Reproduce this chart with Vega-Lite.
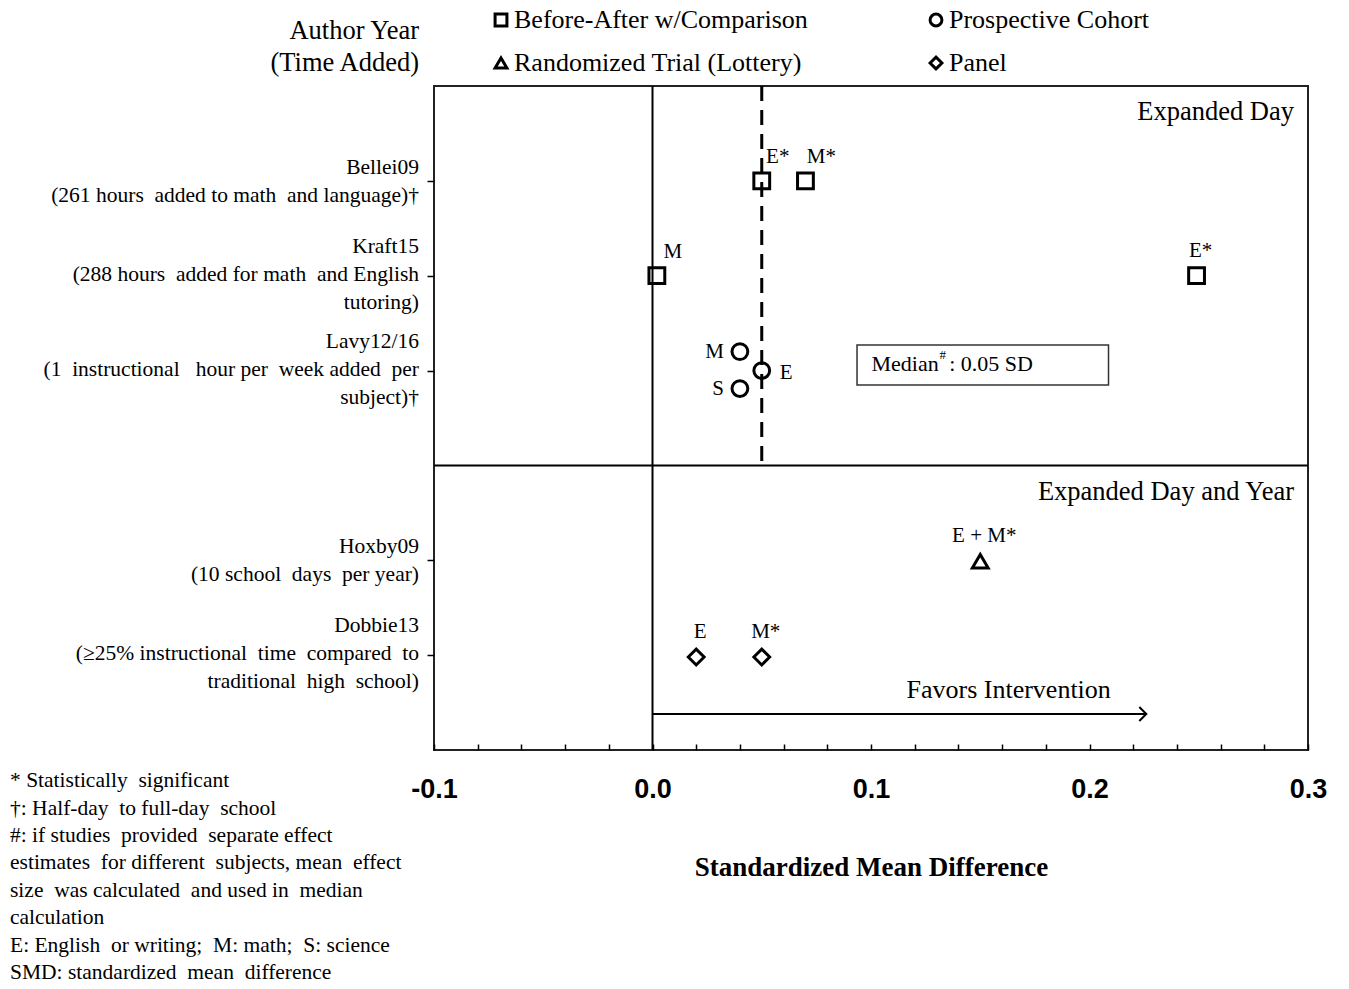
{
  "$schema": "https://vega.github.io/schema/vega-lite/v6.json",
  "width": 874,
  "height": 664,
  "autosize": "none",
  "padding": {"left": 434, "top": 86, "right": 41, "bottom": 239},
  "background": "white",
  "config": {
    "view": {"stroke": "#222", "strokeWidth": 2},
    "text": {"font": "Liberation Serif", "color": "black"}
  },
  "data": {"values": [{}]},
  "datasets": {
    "effects": [
      {"study": "Bellei09", "design": "Before-After w/Comparison", "subject": "E*", "smd": 0.05, "row": 1, "side": "upper right"},
      {"study": "Bellei09", "design": "Before-After w/Comparison", "subject": "M*", "smd": 0.07, "row": 1, "side": "upper right"},
      {"study": "Kraft15", "design": "Before-After w/Comparison", "subject": "M", "smd": 0.002, "row": 2, "side": "upper right"},
      {"study": "Kraft15", "design": "Before-After w/Comparison", "subject": "E*", "smd": 0.249, "row": 2, "side": "top"},
      {"study": "Lavy12/16", "design": "Prospective Cohort", "subject": "M", "smd": 0.04, "row": 2.8, "side": "left"},
      {"study": "Lavy12/16", "design": "Prospective Cohort", "subject": "E", "smd": 0.05, "row": 3.0, "side": "right"},
      {"study": "Lavy12/16", "design": "Prospective Cohort", "subject": "S", "smd": 0.04, "row": 3.19, "side": "left"},
      {"study": "Hoxby09", "design": "Randomized Trial (Lottery)", "subject": "E + M*", "smd": 0.15, "row": 5.01, "side": "top"},
      {"study": "Dobbie13", "design": "Panel", "subject": "E", "smd": 0.02, "row": 6.02, "side": "top"},
      {"study": "Dobbie13", "design": "Panel", "subject": "M*", "smd": 0.05, "row": 6.02, "side": "top"}
    ],
    "studies": [
      {"row": 1, "label": ["Bellei09", "(261 hours \u00a0added to math \u00a0and language)†"]},
      {"row": 2, "label": ["Kraft15", "(288 hours \u00a0added for math \u00a0and English", "tutoring)"]},
      {"row": 3, "label": ["Lavy12/16", "(1 \u00a0instructional \u00a0\u00a0hour per \u00a0week added \u00a0per", "subject)†"]},
      {"row": 5, "label": ["Hoxby09", "(10 school \u00a0days \u00a0per year)"]},
      {"row": 6, "label": ["Dobbie13", "(≥25% instructional \u00a0time \u00a0compared \u00a0to", "traditional \u00a0high \u00a0school)"]}
    ]
  },
  "layer": [
    {
      "mark": {"type": "rule", "color": "black", "strokeWidth": 2},
      "encoding": {"x": {"datum": 0, "scale": {"domain": [-0.1, 0.3], "nice": false, "zero": false}}}
    },
    {
      "mark": {"type": "rule", "color": "black", "strokeWidth": 2},
      "encoding": {"y": {"datum": 4, "scale": {"domain": [0, 7], "nice": false, "zero": false, "reverse": true}}}
    },
    {
      "mark": {"type": "rule", "color": "black", "strokeWidth": 3, "strokeDash": [15, 9]},
      "encoding": {"x": {"datum": 0.05}, "y": {"datum": 0}, "y2": {"datum": 4}}
    },
    {
      "mark": {"type": "rule", "color": "black", "strokeWidth": 2},
      "encoding": {"x": {"datum": 0}, "x2": {"datum": 0.226}, "y": {"datum": 6.62}}
    },
    {
      "mark": {"type": "point", "shape": "M-1,-1L0,0L-1,1", "filled": false, "color": "black", "strokeWidth": 2, "size": 196, "opacity": 1},
      "encoding": {"x": {"datum": 0.226}, "y": {"datum": 6.62}}
    },
    {
      "mark": {"type": "text", "fontSize": 26, "align": "center", "baseline": "middle"},
      "encoding": {"x": {"datum": 0.163}, "y": {"datum": 6.37}, "text": {"value": "Favors Intervention"}}
    },
    {
      "mark": {"type": "text", "fontSize": 26.5, "align": "right", "baseline": "middle", "dx": -14},
      "encoding": {"x": {"datum": 0.3}, "y": {"datum": 0.27}, "text": {"value": "Expanded Day"}}
    },
    {
      "mark": {"type": "text", "fontSize": 26.5, "align": "right", "baseline": "middle", "dx": -14},
      "encoding": {"x": {"datum": 0.3}, "y": {"datum": 4.28}, "text": {"value": "Expanded Day and Year"}}
    },
    {
      "mark": {"type": "rect", "fill": "white", "stroke": "#333", "strokeWidth": 1.5},
      "encoding": {"x": {"datum": 0.0936}, "x2": {"datum": 0.2087}, "y": {"datum": 2.73}, "y2": {"datum": 3.152}}
    },
    {
      "mark": {"type": "text", "fontSize": 22, "align": "left", "baseline": "middle"},
      "encoding": {"x": {"datum": 0.1002}, "y": {"datum": 2.93}, "text": {"value": "Median"}}
    },
    {
      "mark": {"type": "text", "fontSize": 13, "align": "left", "baseline": "middle"},
      "encoding": {"x": {"datum": 0.1314}, "y": {"datum": 2.84}, "text": {"value": "#"}}
    },
    {
      "mark": {"type": "text", "fontSize": 22, "align": "left", "baseline": "middle"},
      "encoding": {"x": {"datum": 0.1358}, "y": {"datum": 2.93}, "text": {"value": ":"}}
    },
    {
      "mark": {"type": "text", "fontSize": 22, "align": "left", "baseline": "middle"},
      "encoding": {"x": {"datum": 0.1411}, "y": {"datum": 2.93}, "text": {"value": "0.05 SD"}}
    },
    {
      "data": {"name": "effects"},
      "mark": {"type": "point", "filled": false, "color": "black", "size": 250, "opacity": 1},
      "encoding": {
        "x": {
          "field": "smd", "type": "quantitative",
          "scale": {"domain": [-0.1, 0.3], "nice": false, "zero": false},
          "axis": {
            "values": [-0.1, -0.09, -0.08, -0.07, -0.06, -0.05, -0.04, -0.03, -0.02, -0.01, 0, 0.01, 0.02, 0.03, 0.04, 0.05, 0.06, 0.07, 0.08, 0.09, 0.1, 0.11, 0.12, 0.13, 0.14, 0.15, 0.16, 0.17, 0.18, 0.19, 0.2, 0.21, 0.22, 0.23, 0.24, 0.25, 0.26, 0.27, 0.28, 0.29, 0.3],
            "labelExpr": "abs(datum.value*10 - round(datum.value*10)) < 0.001 ? replace(format(datum.value, '.1f'), '−', '-') : ''",
            "labelOverlap": false,
            "labelFlush": false,
            "labelFont": "Liberation Sans",
            "labelFontWeight": "bold",
            "labelFontSize": 27,
            "labelColor": "black",
            "labelPadding": 32,
            "tickSize": -6,
            "tickColor": "black",
            "tickWidth": 1.5,
            "domain": false,
            "grid": false,
            "title": "Standardized Mean Difference",
            "titleFont": "Liberation Serif",
            "titleFontSize": 27,
            "titleFontWeight": "bold",
            "titleColor": "black",
            "titlePadding": 52
          }
        },
        "y": {
          "field": "row", "type": "quantitative",
          "scale": {"domain": [0, 7], "nice": false, "zero": false, "reverse": true},
          "axis": {"values": [1, 2, 3, 5, 6], "labels": false, "title": null, "domain": false, "grid": false, "tickSize": 7, "tickColor": "black", "tickWidth": 1.5}
        },
        "shape": {
          "field": "design", "type": "nominal",
          "scale": {"domain": ["Before-After w/Comparison", "Prospective Cohort", "Randomized Trial (Lottery)", "Panel"], "range": ["square", "circle", "triangle-up", "diamond"]},
          "legend": {
            "orient": "none", "legendX": 54, "legendY": -79, "direction": "horizontal", "columns": 2,
            "title": null, "symbolStrokeColor": "black", "symbolStrokeWidth": 3.5, "symbolFillColor": "white",
            "symbolSize": 140, "labelFont": "Liberation Serif", "labelFontSize": 26, "labelColor": "black",
            "labelLimit": 500, "labelOffset": 0, "columnPadding": 115, "rowPadding": 17
          }
        },
        "strokeWidth": {
          "field": "design", "type": "nominal",
          "scale": {"domain": ["Before-After w/Comparison", "Prospective Cohort", "Randomized Trial (Lottery)", "Panel"], "range": [3, 3, 3, 2]},
          "legend": null
        }
      }
    },
    {
      "data": {"name": "effects"},
      "transform": [{"filter": "datum.side == 'upper right'"}],
      "mark": {"type": "text", "fontSize": 21, "align": "center", "baseline": "middle", "dx": 16, "dy": -24},
      "encoding": {"x": {"field": "smd", "type": "quantitative"}, "y": {"field": "row", "type": "quantitative"}, "text": {"field": "subject"}}
    },
    {
      "data": {"name": "effects"},
      "transform": [{"filter": "datum.side == 'top'"}],
      "mark": {"type": "text", "fontSize": 21, "align": "center", "baseline": "middle", "dx": 4, "dy": -25},
      "encoding": {"x": {"field": "smd", "type": "quantitative"}, "y": {"field": "row", "type": "quantitative"}, "text": {"field": "subject"}}
    },
    {
      "data": {"name": "effects"},
      "transform": [{"filter": "datum.side == 'left'"}],
      "mark": {"type": "text", "fontSize": 21, "align": "right", "baseline": "middle", "dx": -16},
      "encoding": {"x": {"field": "smd", "type": "quantitative"}, "y": {"field": "row", "type": "quantitative"}, "text": {"field": "subject"}}
    },
    {
      "data": {"name": "effects"},
      "transform": [{"filter": "datum.side == 'right'"}],
      "mark": {"type": "text", "fontSize": 21, "align": "left", "baseline": "middle", "dx": 18, "dy": 2},
      "encoding": {"x": {"field": "smd", "type": "quantitative"}, "y": {"field": "row", "type": "quantitative"}, "text": {"field": "subject"}}
    },
    {
      "data": {"name": "studies"},
      "transform": [{"filter": "length(datum.label) == 2"}],
      "mark": {"type": "text", "fontSize": 21.5, "align": "right", "baseline": "middle", "lineHeight": 28, "dx": -15, "dy": -13},
      "encoding": {"x": {"datum": -0.1}, "y": {"field": "row", "type": "quantitative"}, "text": {"field": "label"}}
    },
    {
      "data": {"name": "studies"},
      "transform": [{"filter": "length(datum.label) == 3"}],
      "mark": {"type": "text", "fontSize": 21.5, "align": "right", "baseline": "middle", "lineHeight": 28, "dx": -15, "dy": -29},
      "encoding": {"x": {"datum": -0.1}, "y": {"field": "row", "type": "quantitative"}, "text": {"field": "label"}}
    },
    {
      "mark": {"type": "text", "fontSize": 26.5, "align": "right", "baseline": "middle", "lineHeight": 32, "dx": -15},
      "encoding": {"x": {"datum": -0.1}, "y": {"datum": -0.58}, "text": {"value": ["Author Year", "(Time Added)"]}}
    },
    {
      "mark": {"type": "text", "fontSize": 21.5, "align": "left", "baseline": "middle", "lineHeight": 27.4, "dx": -424},
      "encoding": {"x": {"datum": -0.1}, "y": {"datum": 7.33}, "text": {"value": ["* Statistically \u00a0significant", "†: Half-day \u00a0to full-day \u00a0school", "#: if studies \u00a0provided \u00a0separate effect", "estimates \u00a0for different \u00a0subjects, mean \u00a0effect", "size \u00a0was calculated \u00a0and used in \u00a0median", "calculation", "E: English \u00a0or writing; \u00a0M: math; \u00a0S: science", "SMD: standardized \u00a0mean \u00a0difference"]}}
    }
  ]
}
